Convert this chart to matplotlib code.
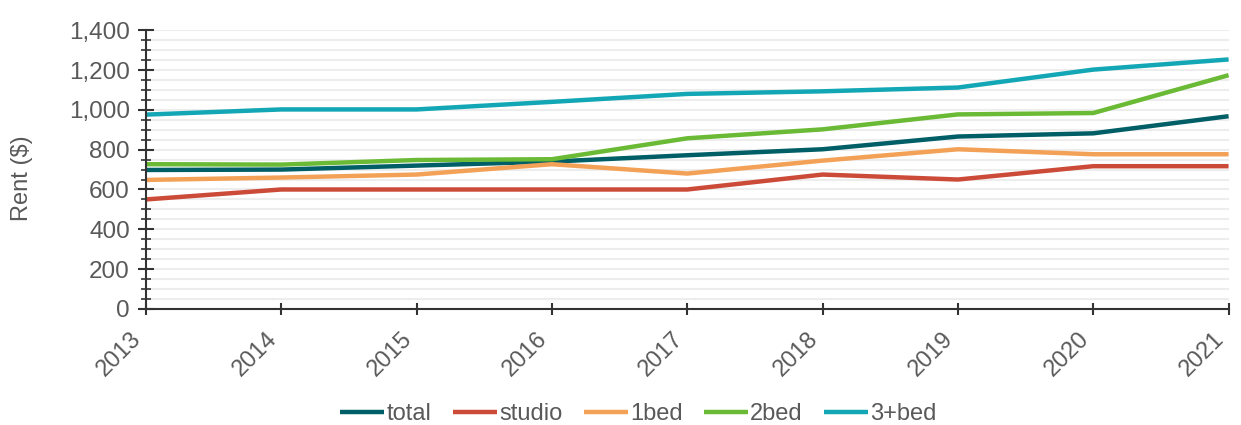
import matplotlib.pyplot as plt
from matplotlib.ticker import MultipleLocator, FuncFormatter

plt.rcParams['font.family'] = ['Liberation Sans', 'DejaVu Sans']

years = [2013, 2014, 2015, 2016, 2017, 2018, 2019, 2020, 2021]
total = [698, 700, 720, 740, 772, 802, 866, 882, 968]
studio = [550, 600, 600, 600, 600, 675, 650, 717, 717]
bed1 = [648, 660, 675, 727, 680, 745, 802, 777, 777]
bed2 = [727, 725, 748, 752, 857, 902, 977, 984, 1174]
bed3 = [976, 1002, 1002, 1040, 1080, 1093, 1112, 1202, 1253]

series = [("total", total, "#005e66"), ("studio", studio, "#cc4b38"),
          ("1bed", bed1, "#f3a156"), ("2bed", bed2, "#6aba35"),
          ("3+bed", bed3, "#13a7b6")]

fig = plt.figure(figsize=(12.41, 4.25), dpi=100)
ax = fig.add_axes([0.1176, 0.273, 0.8724, 0.656])

for name, vals, col in series:
    ax.plot(years, vals, color=col, lw=3.2, label=name, solid_capstyle='butt')

ax.set_xlim(2013, 2021)
ax.set_ylim(0, 1400)
ax.set_xticks(years)
ax.set_xticklabels([str(y) for y in years], rotation=45, ha='right',
                   va='bottom', rotation_mode='anchor')

ax.yaxis.set_major_locator(MultipleLocator(200))
ax.yaxis.set_minor_locator(MultipleLocator(50))
ax.yaxis.set_major_formatter(FuncFormatter(lambda v, p: f"{int(v):,}"))
ax.grid(axis='y', which='both', color='#ededed', lw=1.5)
ax.set_axisbelow(True)

for s in ['top', 'right']:
    ax.spines[s].set_visible(False)
for s in ['left', 'bottom']:
    ax.spines[s].set_color('#333333')
    ax.spines[s].set_linewidth(1.5)

ax.tick_params(axis='y', which='major', direction='inout', length=11, width=1.5,
               color='#333333', labelsize=17.5, labelcolor='#595959', pad=6)
ax.tick_params(axis='y', which='minor', direction='inout', length=7, width=1.2,
               color='#333333')
ax.tick_params(axis='x', direction='inout', length=9, width=1.5,
               color='#333333', labelsize=17, labelcolor='#595959', pad=20)

ax.set_ylabel("Rent ($)", fontsize=17, color='#595959')
ax.yaxis.set_label_coords(-0.104, 0.47)

fig.legend(loc='center', bbox_to_anchor=(0.5145, 0.026), ncol=5,
           frameon=False, fontsize=17, handlelength=1.86, handletextpad=0.1,
           columnspacing=0.9, labelcolor='#595959')

fig.savefig("out.png", dpi=100)
